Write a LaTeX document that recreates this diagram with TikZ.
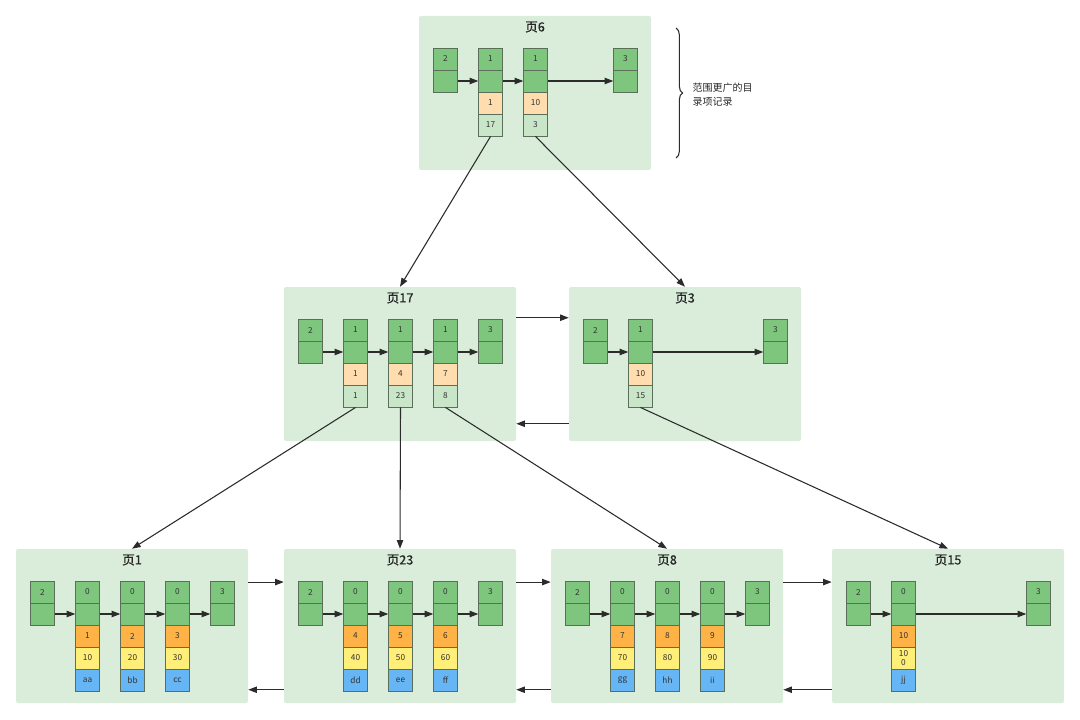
\documentclass[tikz,border=0pt]{standalone}
\usepackage{fontspec}
\setmainfont{Noto Sans CJK SC}
\newfontfamily\titlefont[FakeBold=0.6]{Noto Sans CJK SC}
\usetikzlibrary{arrows.meta,decorations.pathreplacing}
\definecolor{pagebg}{HTML}{DAEDDA}
\definecolor{cgreen}{HTML}{7EC57E}
\definecolor{ckey}{HTML}{FFDDAE}
\definecolor{cptr}{HTML}{C9E6C9}
\definecolor{cpk}{HTML}{FFB347}
\definecolor{cyel}{HTML}{FFEE77}
\definecolor{cblue}{HTML}{66B5F5}
\definecolor{cborder}{HTML}{5A6E5A}
\definecolor{ctext}{HTML}{333333}
\definecolor{cline}{HTML}{2B2B2B}
\newcommand\infcell[4]{%
  \node[cellbox] (#1-1) at (#2,#3) {#4};
  \node[cellbox] (#1-2) at (#2,#3+22) {};}
\newcommand\dircell[6]{%
  \infcell{#1}{#2}{#3}{#4}
  \node[cellbox,fill=ckey] (#1-3) at (#2,#3+44) {#5};
  \node[cellbox,fill=cptr] (#1-4) at (#2,#3+66) {#6};}
\newcommand\leafcell[7]{%
  \infcell{#1}{#2}{#3}{#4}
  \node[cellbox,fill=cpk] (#1-3) at (#2,#3+44) {#5};
  \node[cellbox,fill=cyel] (#1-4) at (#2,#3+66) {#6};
  \node[cellbox,fill=cblue] (#1-5) at (#2,#3+88) {#7};}
\newcommand\mkpage[4]{%
  \node[pagebox] (#1) at (#2+116,#3+77) {};
  \node[titletext] (#1t) at (#2+116,#3+11) {#4};}
\begin{document}
\begin{tikzpicture}[x=0.75pt,y=-0.75pt,
  cellbox/.style={draw=cborder, line width=0.7pt, fill=cgreen, minimum width=17.6pt,
    minimum height=16.5pt, inner sep=0pt, align=center,
    font=\fontsize{6.2}{7}\selectfont, text=ctext},
  pagebox/.style={fill=pagebg, draw=none, rounded corners=1.5pt, minimum width=174pt,
    minimum height=115.5pt, inner sep=0pt},
  titletext/.style={font=\titlefont\fontsize{9.5}{11}\selectfont, text=black!85},
  arr/.style={draw=cline, line width=0.8pt, -{Triangle[length=6.5pt,width=4.8pt]}}]
\useasboundingbox (0,0) rectangle (1080,720);

% ---------- page 6 ----------
\mkpage{p6}{419}{16}{页6}
\infcell{p6a}{445.5}{59}{2}
\dircell{p6b}{490.5}{59}{1}{1}{17}
\dircell{p6c}{535.5}{59}{1}{10}{3}
\infcell{p6d}{625.5}{59}{3}
\draw[arr] (p6a-2) -- (p6b-2);
\draw[arr] (p6b-2) -- (p6c-2);
\draw[arr] (p6c-2) -- (p6d-2);

% brace and note
\draw[cline, line width=0.8pt, decorate, decoration={brace, amplitude=5pt}] (676,28) -- (676,158);
\node[anchor=west, align=left, font=\fontsize{7.5}{10.5}\selectfont, text=black!85] (note) at (688,95) {范围更广的目\\录项记录};

% ---------- page 17 ----------
\mkpage{p17}{284}{287}{页17}
\infcell{p17a}{310.5}{330}{2}
\dircell{p17b}{355.5}{330}{1}{1}{1}
\dircell{p17c}{400.5}{330}{1}{4}{23}
\dircell{p17d}{445.5}{330}{1}{7}{8}
\infcell{p17e}{490.5}{330}{3}
\draw[arr] (p17a-2) -- (p17b-2);
\draw[arr] (p17b-2) -- (p17c-2);
\draw[arr] (p17c-2) -- (p17d-2);
\draw[arr] (p17d-2) -- (p17e-2);

% ---------- page 3 ----------
\mkpage{p3}{569}{287}{页3}
\infcell{p3a}{595.5}{330}{2}
\dircell{p3b}{640.5}{330}{1}{10}{15}
\infcell{p3c}{775.5}{330}{3}
\draw[arr] (p3a-2) -- (p3b-2);
\draw[arr] (p3b-2) -- (p3c-2);

% ---------- page 1 ----------
\mkpage{p1}{16}{549}{页1}
\infcell{p1a}{42.5}{592}{2}
\leafcell{p1b}{87.5}{592}{0}{1}{10}{aa}
\leafcell{p1c}{132.5}{592}{0}{2}{20}{bb}
\leafcell{p1d}{177.5}{592}{0}{3}{30}{cc}
\infcell{p1e}{222.5}{592}{3}
\draw[arr] (p1a-2) -- (p1b-2);
\draw[arr] (p1b-2) -- (p1c-2);
\draw[arr] (p1c-2) -- (p1d-2);
\draw[arr] (p1d-2) -- (p1e-2);

% ---------- page 23 ----------
\mkpage{p23}{284}{549}{页23}
\infcell{p23a}{310.5}{592}{2}
\leafcell{p23b}{355.5}{592}{0}{4}{40}{dd}
\leafcell{p23c}{400.5}{592}{0}{5}{50}{ee}
\leafcell{p23d}{445.5}{592}{0}{6}{60}{ff}
\infcell{p23e}{490.5}{592}{3}
\draw[arr] (p23a-2) -- (p23b-2);
\draw[arr] (p23b-2) -- (p23c-2);
\draw[arr] (p23c-2) -- (p23d-2);
\draw[arr] (p23d-2) -- (p23e-2);

% ---------- page 8 ----------
\mkpage{p8}{551}{549}{页8}
\infcell{p8a}{577.5}{592}{2}
\leafcell{p8b}{622.5}{592}{0}{7}{70}{gg}
\leafcell{p8c}{667.5}{592}{0}{8}{80}{hh}
\leafcell{p8d}{712.5}{592}{0}{9}{90}{ii}
\infcell{p8e}{757.5}{592}{3}
\draw[arr] (p8a-2) -- (p8b-2);
\draw[arr] (p8b-2) -- (p8c-2);
\draw[arr] (p8c-2) -- (p8d-2);
\draw[arr] (p8d-2) -- (p8e-2);

% ---------- page 15 ----------
\mkpage{p15}{832}{549}{页15}
\infcell{p15a}{858.5}{592}{2}
\leafcell{p15b}{903.5}{592}{0}{10}{\fontsize{6.2}{6.8}\selectfont 10\\0}{jj}
\infcell{p15c}{1038.5}{592}{3}
\draw[arr] (p15a-2) -- (p15b-2);
\draw[arr] (p15b-2) -- (p15c-2);

% ---------- tree connectors ----------
\draw[arr] (p6b-4.south) -- (p17.north);
\draw[arr] (p6c-4.south) -- (p3.north);
\draw[arr] (p17b-4.south) -- (p1.north);
\draw[arr] (p17c-4.south) -- (p23.north);
\draw[arr] (p17d-4.south) -- (p8.north);
\draw[arr] (p3b-4.south) -- (p15.north);

% ---------- sibling links ----------
\draw[arr] ([yshift=-23.25pt]p17.north east) -- ([yshift=-23.25pt]p3.north west);
\draw[arr] ([yshift=-102.75pt]p3.north west) -- ([yshift=-102.75pt]p17.north east);
\draw[arr] ([yshift=-25pt]p1.north east) -- ([yshift=-25pt]p23.north west);
\draw[arr] ([yshift=-105.75pt]p23.north west) -- ([yshift=-105.75pt]p1.north east);
\draw[arr] ([yshift=-25pt]p23.north east) -- ([yshift=-25pt]p8.north west);
\draw[arr] ([yshift=-105.75pt]p8.north west) -- ([yshift=-105.75pt]p23.north east);
\draw[arr] ([yshift=-25pt]p8.north east) -- ([yshift=-25pt]p15.north west);
\draw[arr] ([yshift=-105.75pt]p15.north west) -- ([yshift=-105.75pt]p8.north east);
\end{tikzpicture}
\end{document}
